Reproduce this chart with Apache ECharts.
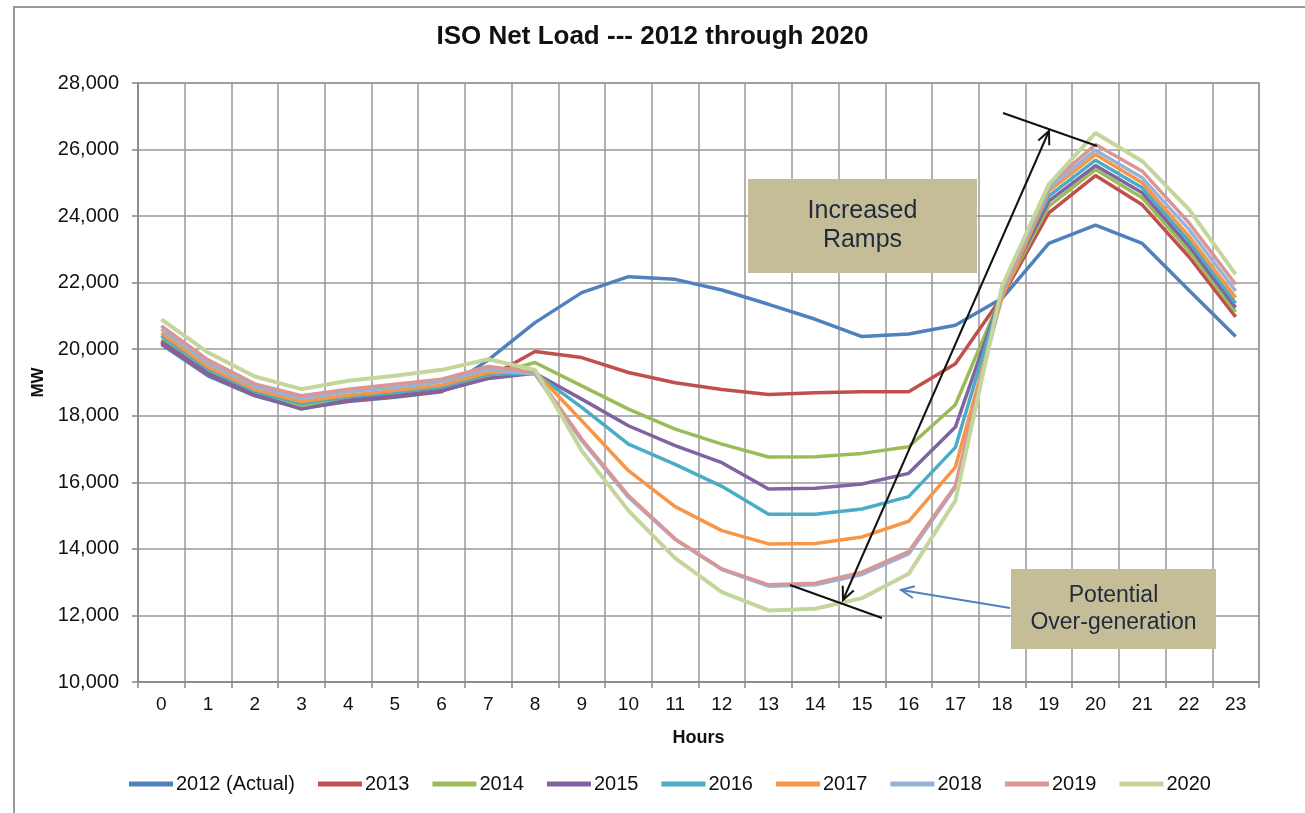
<!DOCTYPE html>
<html>
<head>
<meta charset="utf-8">
<script src="https://cdn.jsdelivr.net/npm/echarts@6/dist/echarts.min.js"></script>
<style>
  html, body { margin: 0; padding: 0; background: #fff; }
  #main { width: 1305px; height: 813px; }
</style>
</head>
<body>
<div id="main"></div>
<script>
const hours = ['0','1','2','3','4','5','6','7','8','9','10','11','12','13','14','15','16','17','18','19','20','21','22','23'];
const yTicks = [10000, 28000, 2000]; // min, max, step

const load2012 = [20150, 19200, 18600, 18220, 18430, 18560, 18720, 19680, 20800, 21700, 22180, 22100, 21780, 21350, 20900, 20380, 20460, 20720, 21530, 23180, 23730, 23180, 21770, 20380];
const load2013 = [20200, 19250, 18620, 18230, 18450, 18580, 18740, 19150, 19930, 19750, 19300, 18990, 18790, 18640, 18690, 18720, 18720, 19560, 21580, 24100, 25220, 24340, 22780, 20970];
const load2014 = [20280, 19330, 18680, 18290, 18500, 18630, 18800, 19200, 19600, 18900, 18200, 17600, 17150, 16760, 16770, 16870, 17070, 18330, 21650, 24300, 25400, 24550, 22950, 21120];
const load2015 = [20230, 19270, 18640, 18200, 18470, 18600, 18760, 19120, 19280, 18500, 17700, 17100, 16590, 15800, 15820, 15950, 16270, 17660, 21700, 24450, 25520, 24700, 23100, 21250];
const load2016 = [20400, 19400, 18730, 18370, 18570, 18700, 18860, 19250, 19280, 18250, 17150, 16540, 15880, 15040, 15040, 15200, 15570, 17050, 21750, 24600, 25680, 24850, 23250, 21380];
const load2017 = [20480, 19470, 18790, 18430, 18620, 18760, 18920, 19300, 19330, 17850, 16350, 15270, 14550, 14150, 14160, 14360, 14830, 16460, 21550, 24750, 25850, 25000, 23400, 21550];
const load2018 = [20600, 19580, 18880, 18520, 18720, 18850, 19020, 19400, 19250, 17250, 15550, 14280, 13380, 12880, 12920, 13230, 13850, 15850, 21700, 24850, 25980, 25150, 23600, 21750];
const load2019 = [20700, 19680, 18960, 18600, 18800, 18950, 19100, 19480, 19300, 17300, 15600, 14300, 13400, 12920, 12970, 13300, 13920, 15900, 21800, 24950, 26150, 25350, 23800, 21950];
const load2020 = [20900, 19900, 19180, 18800, 19050, 19200, 19380, 19700, 19380, 16950, 15150, 13720, 12700, 12150, 12200, 12520, 13250, 15450, 21900, 24950, 26500, 25650, 24200, 22250];

const seriesNames = ['2012 (Actual)', '2013', '2014', '2015', '2016', '2017', '2018', '2019', '2020'];
const seriesData = [load2012, load2013, load2014, load2015, load2016, load2017, load2018, load2019, load2020];
const colors = ['#4F81BD', '#C0504D', '#9BBB59', '#8064A2', '#4BACC6', '#F79646', '#95B3D7', '#D99694', '#C3D69B'];

const FONT = '"Liberation Sans", Arial, sans-serif';

function withCommas(v) {
  return String(v).replace(/\B(?=(\d{3})+(?!\d))/g, ',');
}

// open arrow head at (tx,ty) pointing away from (fx,fy)
function arrowHead(tx, ty, fx, fy, color) {
  const dx = tx - fx, dy = ty - fy;
  const len = Math.sqrt(dx * dx + dy * dy);
  const ux = dx / len, uy = dy / len;
  const bx = tx - ux * 13, by = ty - uy * 13;
  return {
    type: 'polyline',
    shape: { points: [[bx - uy * 6, by + ux * 6], [tx, ty], [bx + uy * 6, by - ux * 6]] },
    style: { stroke: color, lineWidth: 2, fill: null }
  };
}

function seg(x1, y1, x2, y2, color) {
  return { type: 'line', shape: { x1: x1, y1: y1, x2: x2, y2: y2 }, style: { stroke: color, lineWidth: 2 } };
}

function box(x, y, w, h, lines, size) {
  return [
    { type: 'rect', shape: { x: x, y: y, width: w, height: h }, style: { fill: '#C4BD97' }, z: 10 },
    {
      type: 'text', x: x + w / 2, y: y + h / 2, z: 11,
      style: {
        text: lines, font: size + 'px ' + FONT, fill: '#1F2A3A',
        align: 'center', verticalAlign: 'middle', textAlign: 'center', textVerticalAlign: 'middle',
        lineHeight: size + 4
      }
    }
  ];
}

const chart = echarts.init(document.getElementById('main'));

const option = {
  animation: false,
  backgroundColor: '#fff',
  color: colors,
  title: {
    text: 'ISO Net Load --- 2012 through 2020',
    left: 'center',
    top: 19,
    textStyle: { fontFamily: FONT, fontWeight: 'bold', fontSize: 26, color: '#111' }
  },
  legend: {
    data: seriesNames,
    left: 129,
    top: 774,
    padding: 0,
    itemWidth: 44,
    itemHeight: 5,
    itemGap: 23,
    icon: 'rect',
    textStyle: { fontFamily: FONT, fontSize: 20, color: '#111', padding: [0, 0, 0, -2] }
  },
  grid: {
    left: 138, right: 46, top: 83, bottom: 131,
    show: true, borderColor: '#999', borderWidth: 1.5
  },
  xAxis: {
    type: 'category',
    data: hours,
    boundaryGap: true,
    name: 'Hours',
    nameLocation: 'middle',
    nameGap: 47,
    nameTextStyle: { fontFamily: FONT, fontWeight: 'bold', fontSize: 18, color: '#111' },
    axisLine: { lineStyle: { color: '#888', width: 1.5 } },
    axisTick: { show: true, length: 6, interval: 0, lineStyle: { color: '#888', width: 1.5 } },
    axisLabel: { interval: 0, margin: 13, fontFamily: FONT, fontSize: 19, color: '#111' },
    splitLine: { show: true, interval: 0, lineStyle: { color: '#999', width: 1.5 } }
  },
  yAxis: {
    type: 'value',
    min: yTicks[0],
    max: yTicks[1],
    interval: yTicks[2],
    name: 'MW',
    nameLocation: 'middle',
    nameGap: 90,
    nameTextStyle: { fontFamily: FONT, fontWeight: 'bold', fontSize: 17, color: '#111' },
    axisLine: { show: true, lineStyle: { color: '#888', width: 1.5 } },
    axisTick: { show: true, length: 6, lineStyle: { color: '#888', width: 1.5 } },
    axisLabel: { margin: 19, fontFamily: FONT, fontSize: 20, color: '#111', formatter: withCommas },
    splitLine: { show: true, lineStyle: { color: '#999', width: 1.5 } }
  },
  series: seriesNames.map((name, i) => ({
    name: name,
    type: 'line',
    data: seriesData[i],
    symbol: 'none',
    lineStyle: { width: i === 8 ? 4 : 3.5, color: colors[i] },
    itemStyle: { color: colors[i] },
    z: 2 + i
  })),
  graphic: [
    // outer chart frame
    { type: 'rect', shape: { x: 14, y: 7, width: 1400, height: 900 }, style: { fill: null, stroke: '#999', lineWidth: 2 }, silent: true },
    ...box(748, 179, 229, 94, 'Increased\nRamps', 25),
    ...box(1011, 569, 205, 80, 'Potential\nOver-generation', 23),
    { ...seg(1003, 113, 1097, 146, '#111'), z: 12 },
    { ...seg(790, 585, 882, 618, '#111'), z: 12 },
    { ...seg(1049, 131, 843, 600, '#111'), z: 12 },
    { ...arrowHead(1049, 131, 843, 600, '#111'), z: 12 },
    { ...arrowHead(843, 600, 1049, 131, '#111'), z: 12 },
    { ...seg(1010, 608, 901, 590, '#4F81BD'), z: 12 },
    { ...arrowHead(901, 590, 1010, 608, '#4F81BD'), z: 12 }
  ]
};

chart.setOption(option);
</script>
</body>
</html>
